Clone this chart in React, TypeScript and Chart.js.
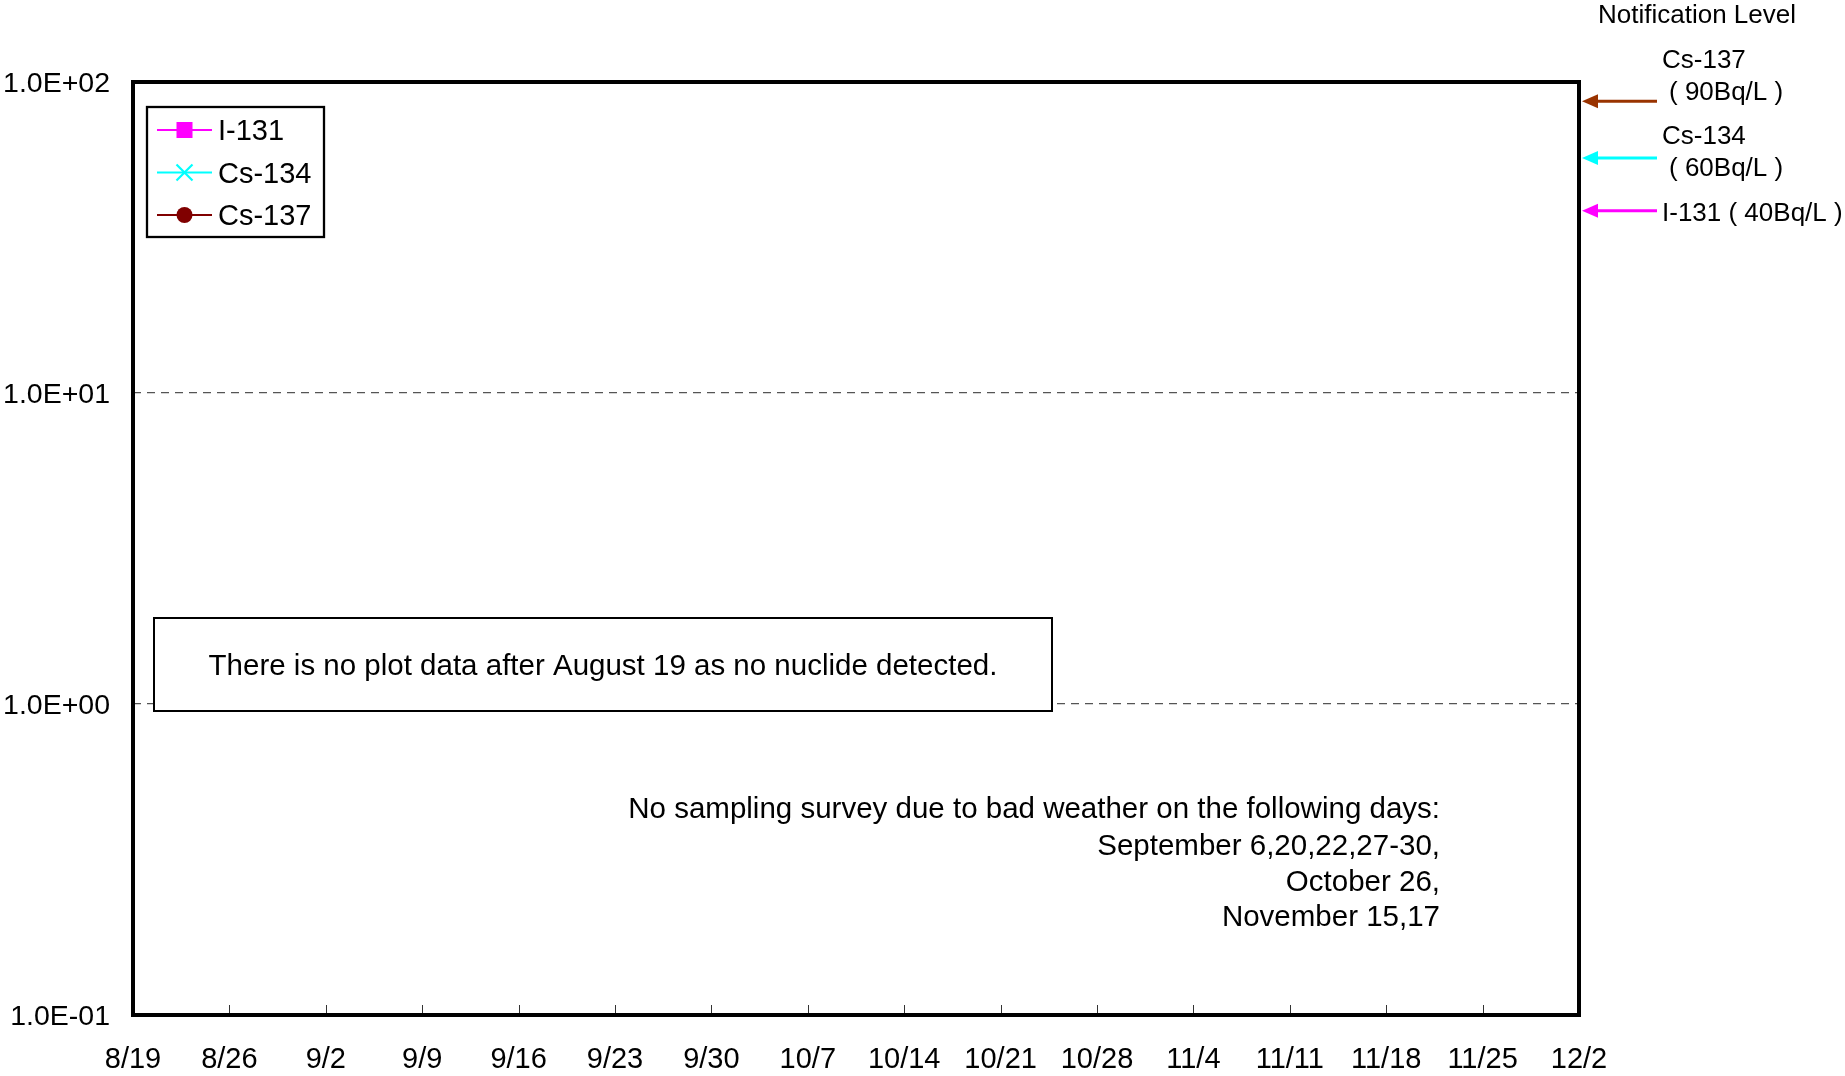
import React, { useEffect, useRef } from 'react';
import { Chart, registerables } from 'chart.js';

Chart.register(...registerables);

const FONT = "'Liberation Sans', Arial, Helvetica, sans-serif";

// Weekly category labels (8/19 .. 12/2)
const xLabels = ['8/19', '8/26', '9/2', '9/9', '9/16', '9/23', '9/30', '10/7', '10/14', '10/21', '10/28', '11/4', '11/11', '11/18', '11/25', '12/2'];

// No nuclide detected in the period -> no plotted values
const i131Values: (number | null)[] = [null, null, null, null, null, null, null, null, null, null, null, null, null, null, null, null];
const cs134Values: (number | null)[] = [null, null, null, null, null, null, null, null, null, null, null, null, null, null, null, null];
const cs137Values: (number | null)[] = [null, null, null, null, null, null, null, null, null, null, null, null, null, null, null, null];

const seriesNames = ['I-131', 'Cs-134', 'Cs-137'];
const seriesColors = ['#FF00FF', '#00FFFF', '#800000'];
const seriesMarkers = ['rect', 'crossRot', 'circle'];

const yTickValues = [0.1, 1, 10, 100];
const yTickLabels = ['1.0E-01', '1.0E+00', '1.0E+01', '1.0E+02'];

const notifyNames = ['Cs-137', 'Cs-134', 'I-131'];
const notifyLevels = [90, 60, 40];
const notifyUnits = ['( 90Bq/L )', '( 60Bq/L )', '( 40Bq/L )'];
const notifyColors = ['#993300', '#00FFFF', '#FF00FF'];
const notifyTitle = 'Notification Level';

const noDataNote = 'There is no plot data after August 19 as no nuclide detected.';
const weatherNotes = [
  'No sampling survey due to bad weather on the following days:',
  'September 6,20,22,27-30,',
  'October 26,',
  'November 15,17',
];

function drawMarker(ctx: CanvasRenderingContext2D, style: string, color: string, cx: number, cy: number) {
  const r = 8;
  ctx.save();
  ctx.fillStyle = color;
  ctx.strokeStyle = color;
  ctx.lineWidth = 2.2;
  if (style === 'rect') {
    ctx.fillRect(cx - r, cy - r, 2 * r, 2 * r);
  } else if (style === 'circle') {
    ctx.beginPath();
    ctx.arc(cx, cy, r, 0, Math.PI * 2);
    ctx.fill();
  } else {
    ctx.beginPath();
    ctx.moveTo(cx - r, cy - r);
    ctx.lineTo(cx + r, cy + r);
    ctx.moveTo(cx + r, cy - r);
    ctx.lineTo(cx - r, cy + r);
    ctx.stroke();
  }
  ctx.restore();
}

const decorPlugin = {
  id: 'decor',
  afterDraw(chart: any) {
    const { ctx, chartArea: a, scales } = chart;
    const xs = scales.x;
    const ys = scales.y;
    ctx.save();

    // inward tick marks on the bottom axis
    ctx.strokeStyle = '#333';
    ctx.lineWidth = 1;
    for (let i = 1; i < xLabels.length - 1; i++) {
      const px = Math.round(xs.getPixelForTick(i)) + 0.5;
      ctx.beginPath();
      ctx.moveTo(px, a.bottom - 2);
      ctx.lineTo(px, a.bottom - 10);
      ctx.stroke();
    }

    // plot frame
    ctx.strokeStyle = '#000';
    ctx.lineWidth = 4;
    ctx.strokeRect(a.left, a.top, a.right - a.left, a.bottom - a.top);

    // legend box
    const lx = a.left + 14;
    const ly = a.top + 25;
    const lw = 177;
    const lh = 130;
    ctx.fillStyle = '#fff';
    ctx.fillRect(lx, ly, lw, lh);
    ctx.strokeStyle = '#000';
    ctx.lineWidth = 2.3;
    ctx.strokeRect(lx, ly, lw, lh);
    ctx.font = `29px ${FONT}`;
    ctx.textBaseline = 'middle';
    ctx.textAlign = 'left';
    chart.data.datasets.forEach((ds: any, i: number) => {
      const cy = ly + 23 + i * 42.5;
      ctx.strokeStyle = ds.borderColor;
      ctx.lineWidth = 2.2;
      ctx.beginPath();
      ctx.moveTo(lx + 10, cy);
      ctx.lineTo(lx + 65, cy);
      ctx.stroke();
      drawMarker(ctx, ds.pointStyle, ds.borderColor, lx + 37.5, cy);
      ctx.fillStyle = '#000';
      ctx.fillText(ds.label, lx + 71, cy + 2);
    });

    // "no plot data" box
    const bx = a.left + 21;
    const by = a.top + 536;
    const bw = 898;
    const bh = 93;
    ctx.fillStyle = '#fff';
    ctx.fillRect(bx, by, bw, bh);
    ctx.strokeStyle = '#000';
    ctx.lineWidth = 2;
    ctx.strokeRect(bx, by, bw, bh);
    ctx.fillStyle = '#000';
    ctx.textAlign = 'center';
    ctx.font = `29.5px ${FONT}`;
    ctx.fillText(noDataNote, bx + bw / 2, by + bh / 2 + 2);

    // weather notes
    ctx.textAlign = 'right';
    const noteYs = [728, 765, 801, 836];
    weatherNotes.forEach((t, i) => {
      ctx.fillText(t, a.left + 1307, a.top + noteYs[i]);
    });

    // notification level arrows and labels
    ctx.font = `26px ${FONT}`;
    ctx.textAlign = 'left';
    ctx.fillText(notifyTitle, a.right + 19, 16);
    notifyLevels.forEach((lvl, i) => {
      const py = ys.getPixelForValue(lvl) + 5 + (i === 1 ? 2 : 0);
      const tipX = a.right + 3;
      const endX = a.right + 78;
      ctx.strokeStyle = notifyColors[i];
      ctx.fillStyle = notifyColors[i];
      ctx.lineWidth = 3;
      ctx.beginPath();
      ctx.moveTo(tipX + 12, py);
      ctx.lineTo(endX, py);
      ctx.stroke();
      ctx.beginPath();
      ctx.moveTo(tipX, py);
      ctx.lineTo(tipX + 16, py - 7);
      ctx.lineTo(tipX + 16, py + 7);
      ctx.closePath();
      ctx.fill();
    });
    ctx.fillStyle = '#000';
    const tx = a.right + 83;
    ctx.fillText(notifyNames[0], tx, 61);
    ctx.fillText(notifyUnits[0], tx + 7, 93);
    ctx.fillText(notifyNames[1], tx, 137);
    ctx.fillText(notifyUnits[1], tx + 7, 169);
    ctx.fillText(`${notifyNames[2]} ${notifyUnits[2]}`, tx, 214);

    ctx.restore();
  },
};

export default function App() {
  const canvasRef = useRef<HTMLCanvasElement | null>(null);

  useEffect(() => {
    document.body.style.margin = '0';
    document.body.style.overflow = 'hidden';
    Chart.defaults.font.family = FONT;
    Chart.defaults.color = '#000';
    const canvas = canvasRef.current;
    if (!canvas) return;
    const seriesData = [i131Values, cs134Values, cs137Values];
    const chart = new Chart(canvas, {
      type: 'line',
      data: {
        labels: xLabels,
        datasets: seriesNames.map((name, i) => ({
          label: name,
          data: seriesData[i],
          borderColor: seriesColors[i],
          backgroundColor: seriesColors[i],
          pointStyle: seriesMarkers[i] as any,
          pointRadius: 8,
          borderWidth: 2,
          spanGaps: false,
        })),
      },
      options: {
        animation: false,
        responsive: false,
        layout: { padding: { top: 82, right: 266, bottom: 0, left: 0 } },
        plugins: { legend: { display: false }, tooltip: { enabled: false } },
        scales: {
          x: {
            type: 'category',
            offset: false,
            grid: { display: false, drawTicks: false },
            border: { display: false },
            ticks: { color: '#000', font: { size: 29 }, padding: 28, maxRotation: 0, minRotation: 0, autoSkip: false },
            afterFit: (s: any) => {
              s.height = 61;
            },
          },
          y: {
            type: 'logarithmic',
            min: 0.1,
            max: 100,
            afterBuildTicks: (s: any) => {
              s.ticks = yTickValues.map((v) => ({ value: v }));
            },
            grid: {
              color: (c: any) => (c.tick && (c.tick.value === 1 || c.tick.value === 10) ? '#555' : 'rgba(0,0,0,0)'),
              lineWidth: 1.3,
              drawTicks: false,
            },
            border: { display: false, dash: [8, 6] },
            ticks: {
              color: '#000',
              font: { size: 28.5 },
              padding: 23,
              labelOffset: 2,
              callback: (_v: any, i: number) => yTickLabels[i],
            },
            afterFit: (s: any) => {
              s.width = 133;
            },
          },
        },
      } as any,
      plugins: [decorPlugin],
    });
    return () => chart.destroy();
  }, []);

  return (
    <div style={{ position: 'absolute', left: 0, top: 0, width: 1845, height: 1076, background: '#fff' }}>
      <canvas ref={canvasRef} width={1845} height={1076} style={{ display: 'block', width: 1845, height: 1076 }} />
    </div>
  );
}
